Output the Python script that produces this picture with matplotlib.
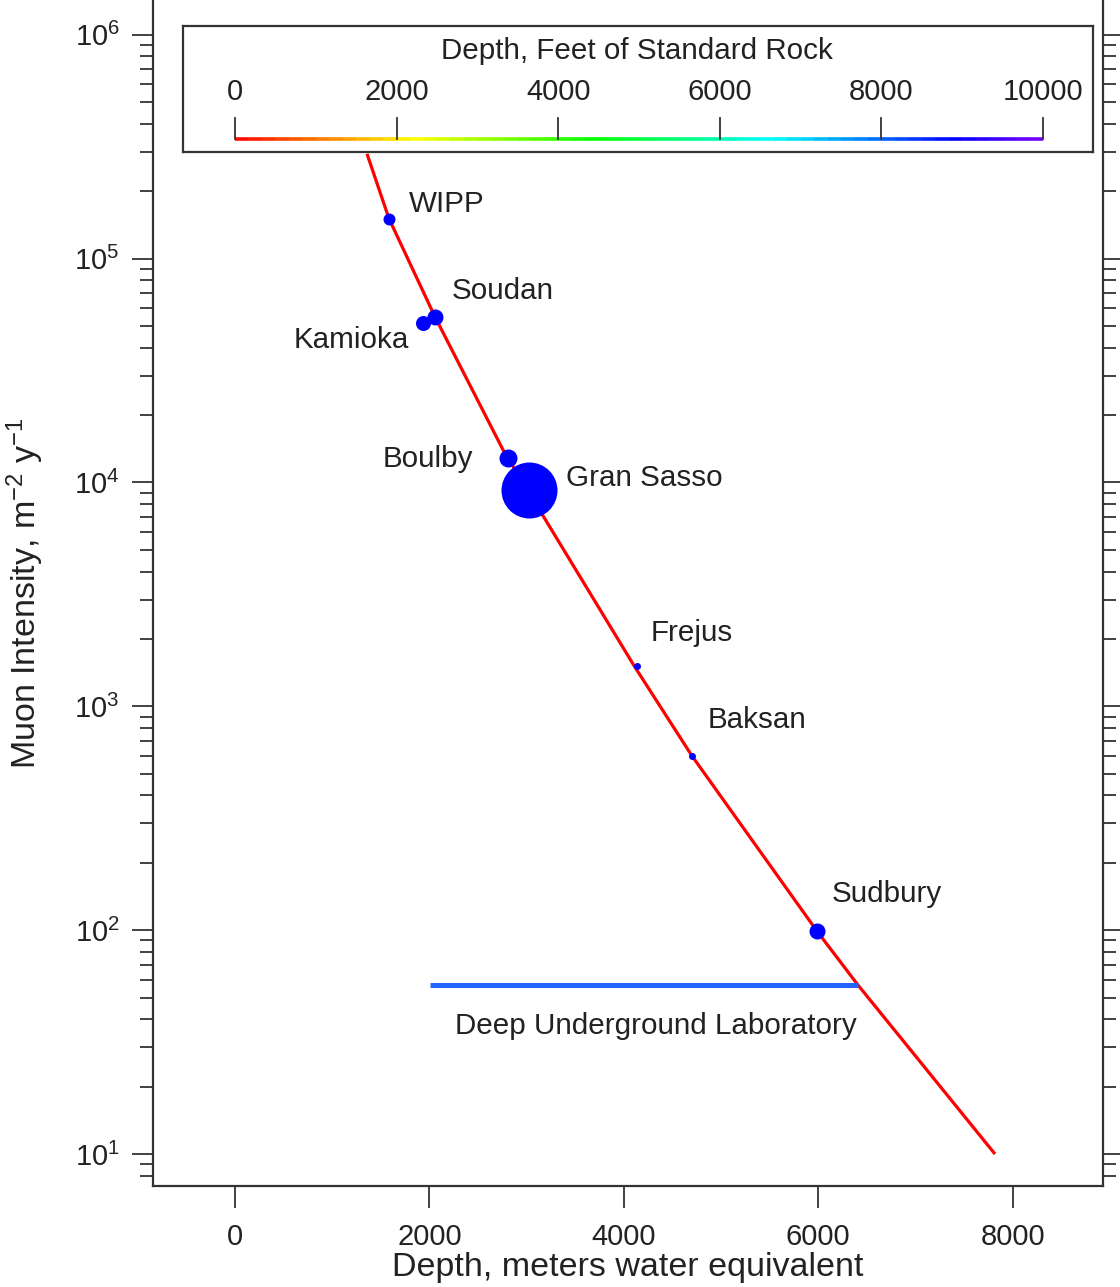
import colorsys
import numpy as np
import matplotlib
matplotlib.use("Agg")
import matplotlib.pyplot as plt
from matplotlib.collections import LineCollection
from matplotlib.ticker import LogLocator, FixedLocator

plt.rcParams['font.family'] = ['Liberation Sans', 'DejaVu Sans']
plt.rcParams['mathtext.default'] = 'regular'

# ---------------- data ----------------
# Muon intensity curve (depth in m.w.e., intensity in m^-2 y^-1)
curve_depth = [1358, 1584, 2058, 2757, 4105, 4702, 5988, 6409, 7819]
curve_intensity = [2.94e5, 1.51e5, 5.49e4, 1.40e4, 1.52e3, 600, 99, 56.9, 10]

# Laboratories
lab_names = ["WIPP", "Soudan", "Kamioka", "Boulby", "Gran Sasso", "Frejus", "Baksan", "Sudbury"]
lab_depth = [1584, 2058, 1934, 2809, 3025, 4140, 4702, 5988]
lab_intensity = [1.51e5, 5.49e4, 5.17e4, 1.29e4, 9.27e3, 1.52e3, 600, 99]

# Deep Underground Laboratory threshold
dul_depth_range = [2005, 6409]
dul_intensity = 56.9

# Colour bar scale (feet of standard rock)
feet_ticks = [0, 2000, 4000, 6000, 8000, 10000]

x_ticks = [0, 2000, 4000, 6000, 8000]

# ---------------- styles ----------------
marker_diam_px = {"WIPP": 12, "Soudan": 16, "Kamioka": 15, "Boulby": 18,
                  "Gran Sasso": 56, "Frejus": 7, "Baksan": 7, "Sudbury": 16}
# label placement: (x, y, ha)
label_pos = {"WIPP": (1790, 1.76e5, 'left'), "Soudan": (2233, 7.18e4, 'left'),
             "Kamioka": (1790, 4.34e4, 'right'), "Boulby": (2449, 1.27e4, 'right'),
             "Gran Sasso": (3405, 1.05e4, 'left'), "Frejus": (4280, 2.13e3, 'left'),
             "Baksan": (4866, 869, 'left'), "Sudbury": (6142, 145, 'left')}
dul_label_pos = (4331, 37.5)

W, H = 1120, 1287
DPI = 100
fig = plt.figure(figsize=(W / DPI, H / DPI), dpi=DPI)

def px2fig(l, t, r, b):
    return [l / W, 1 - b / H, (r - l) / W, (b - t) / H]

ax = fig.add_axes(px2fig(153, 0, 1103, 1186))
ax.set_yscale('log')
ax.set_xlim(-843.6, 8930)
ax.set_ylim(7.2, 1.43e6)

spine_col = '#333333'
txt_col = '#222222'
ann_fs = 21.3
for s in ['left', 'right', 'bottom']:
    ax.spines[s].set_linewidth(1.6)
    ax.spines[s].set_color(spine_col)
ax.spines['top'].set_visible(False)

ax.plot(curve_depth, curve_intensity, color='red', lw=2.3, zorder=2, solid_capstyle='butt',
        solid_joinstyle='round')
ax.plot(dul_depth_range, [dul_intensity, dul_intensity], color='#2266ff', lw=3.6, zorder=2,
        solid_capstyle='butt')
ax.text(dul_label_pos[0], dul_label_pos[1], "Deep Underground Laboratory", ha='center', va='center',
        fontsize=ann_fs, color=txt_col)

for name, xd, yd in zip(lab_names, lab_depth, lab_intensity):
    d = marker_diam_px[name] * 72 / DPI
    ax.plot([xd], [yd], 'o', color='#0000ff', ms=d, mew=0, zorder=3)
    lx, ly, ha = label_pos[name]
    ax.text(lx, ly, name, ha=ha, va='center', fontsize=ann_fs, color=txt_col, zorder=4)

ax.xaxis.set_major_locator(FixedLocator(x_ticks))
ax.set_xticklabels([str(v) for v in x_ticks])
ax.yaxis.set_major_locator(LogLocator(base=10, numticks=20))
ax.yaxis.set_minor_locator(LogLocator(base=10, subs=np.arange(2, 10), numticks=20))
ax.tick_params(axis='x', which='major', direction='out', length=15.5, width=1.3,
               color=spine_col, labelsize=21, pad=11, labelcolor=txt_col)
ax.tick_params(axis='y', which='major', direction='out', length=15, width=1.3, color=spine_col,
               labelsize=21, pad=9, right=True, labelcolor=txt_col)
ax.tick_params(axis='y', which='minor', direction='out', length=9.5, width=1.3, color=spine_col,
               right=True)

ax.set_xlabel("Depth, meters water equivalent", fontsize=24.5, labelpad=1, color=txt_col)
ax.set_ylabel("Muon Intensity, m$^{-2}$ y$^{-1}$", fontsize=24.5, labelpad=20, color=txt_col)

# ---------------- colour-scale legend ----------------
lx0, ly0, lx1, ly1 = 183, 26, 1093, 152
lax = fig.add_axes(px2fig(lx0, ly0, lx1, ly1))
ppu = (1043 - 235) / 10000.0
lax.set_xlim(0 - (235 - lx0) / ppu, 10000 + (lx1 - 1043) / ppu)
lax.set_ylim(0, 1)
lax.set_xticks([])
lax.set_yticks([])
for s in lax.spines.values():
    s.set_linewidth(1.6)
    s.set_color(spine_col)
lax.set_facecolor('white')

def ypx(p):
    return (ly1 - p) / (ly1 - ly0)

n = 60
xs = np.linspace(feet_ticks[0], feet_ticks[-1], n + 1)
segs = [[(xs[i], ypx(139)), (xs[i + 1], ypx(139))] for i in range(n)]
cols = [colorsys.hsv_to_rgb(0.75 * ((xs[i] + xs[i + 1]) / 2) / feet_ticks[-1], 1, 1) for i in range(n)]
lc = LineCollection(segs, colors=cols, linewidths=2.6)
lax.add_collection(lc)
for t in feet_ticks:
    lax.plot([t, t], [ypx(139), ypx(118)], color=spine_col, lw=1.3)
    lax.text(t, ypx(92), str(t), ha='center', va='center', fontsize=21, color=txt_col)
lax.text(5000 - 20, ypx(51), "Depth, Feet of Standard Rock", ha='center', va='center',
         fontsize=ann_fs, color=txt_col)

fig.savefig("out.png", dpi=DPI)
